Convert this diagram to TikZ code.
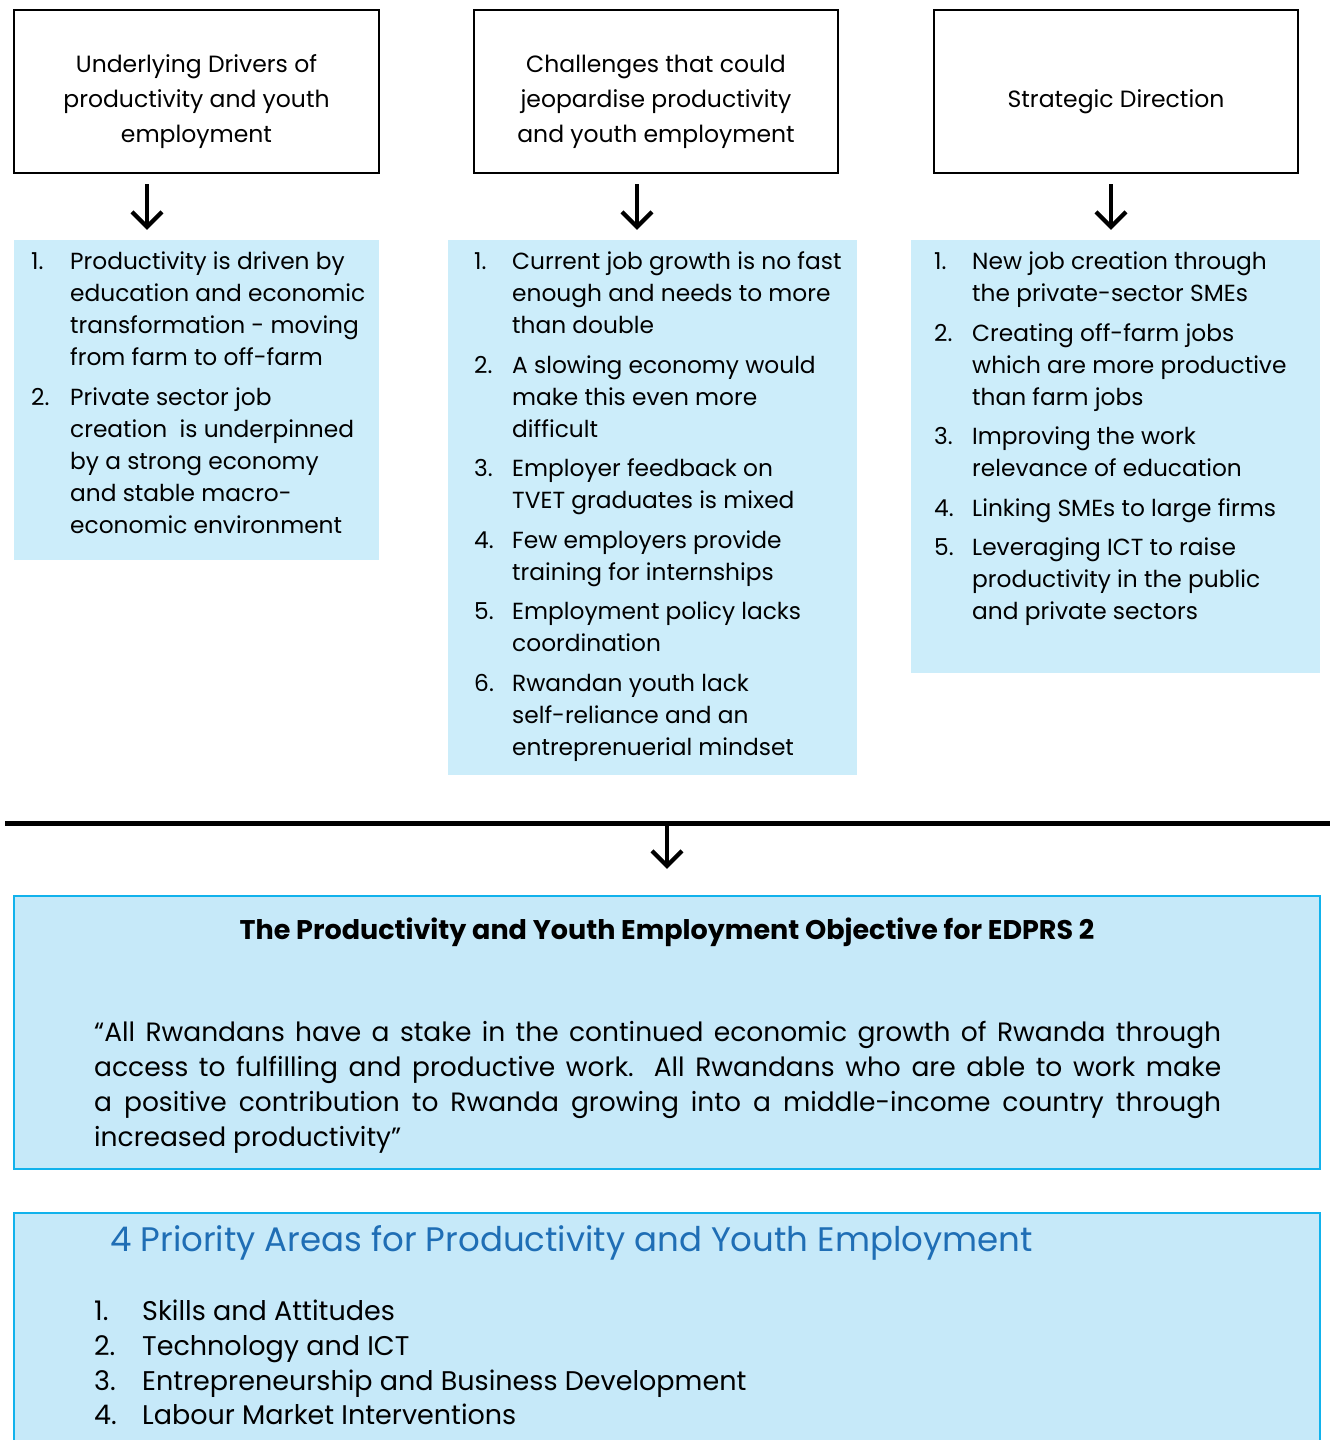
\documentclass[tikz,border=0pt]{standalone}
\usepackage{fontspec}
\setmainfont{Poppins}
\usetikzlibrary{arrows.meta,positioning}

\definecolor{listblue}{RGB}{204,237,250}
\definecolor{objblue}{RGB}{198,233,249}
\definecolor{objline}{RGB}{17,178,236}
\definecolor{titleblue}{RGB}{31,110,181}

\begin{document}
\begin{tikzpicture}[x=1pt,y=-1pt,
    headbox/.style={draw=black, line width=2.5pt, minimum height=163pt, inner sep=0pt},
    headtxt/.style={font=\fontsize{23.5}{35}\selectfont, align=center, anchor=base, inner sep=0pt},
    listbox/.style={fill=listblue, inner sep=0pt},
    itemtxt/.style={font=\fontsize{23.3}{32}\selectfont, align=left, anchor=base west, inner sep=0pt},
    dnarrow/.style={line width=4.2pt, -{Straight Barb[length=15pt,width=30pt]}, shorten <=10pt, shorten >=10pt},
    objbox/.style={draw=objline, fill=objblue, line width=2.5pt, minimum width=1306pt, inner sep=0pt},
]
    \clip (0,0) rectangle (1330,1440);

    % header boxes (multi-line texts sit on their last baseline)
    \node[headbox, minimum width=365pt] (hdrv) at (196.5,91.5) {};
    \node[headbox, minimum width=364pt] (hchl) at (656,91.5) {};
    \node[headbox, minimum width=364pt] (hstr) at (1116,91.5) {};
    \node[headtxt] (hdrvt) at (196.5,142) {Underlying Drivers of\\productivity and youth\\employment};
    \node[headtxt] (hchlt) at (656,142) {Challenges that could\\jeopardise productivity\\and youth employment};
    \node[headtxt] (hstrt) at (1116,107) {Strategic Direction};

    % list boxes
    \node[listbox, minimum width=365pt, minimum height=320pt] (ldrv) at (196.5,400) {};
    \node[listbox, minimum width=409pt, minimum height=535pt] (lchl) at (652.5,507.5) {};
    \node[listbox, minimum width=409pt, minimum height=433pt] (lstr) at (1115.5,456.5) {};

    \draw[dnarrow] ([xshift=-49.5pt]hdrv.south) -- ([xshift=-49.5pt]ldrv.north);
    \draw[dnarrow] ([xshift=-19pt]hchl.south) -- ([xshift=-15.5pt]lchl.north);
    \draw[dnarrow] ([xshift=-5pt]hstr.south) -- ([xshift=-4.5pt]lstr.north);

\foreach \n/\yy/\zz/\txt in {1/269/365/{Productivity is driven by\\education and economic\\transformation - moving\\from farm to off-farm},
                             2/405/533/{Private sector job\\creation \ is underpinned\\by a strong economy\\and stable macro-\\economic environment}}
{
    \node[itemtxt] (drvn\n) at (31,\yy) {\n.};
    \node[itemtxt] (drv\n) at (70,\zz) {\txt};
}

\foreach \n/\yy/\zz/\txt in {1/269/333/{Current job growth is no fast\\enough and needs to more\\than double},
                             2/373/437/{A slowing economy would\\make this even more\\difficult},
                             3/476/508/{Employer feedback on\\TVET graduates is mixed},
                             4/548/580/{Few employers provide\\training for internships},
                             5/619/651/{Employment policy lacks\\coordination},
                             6/691/755/{Rwandan youth lack\\self-reliance and an\\entreprenuerial mindset}}
{
    \node[itemtxt] (chln\n) at (474,\yy) {\n.};
    \node[itemtxt] (chl\n) at (512,\zz) {\txt};
}

\foreach \n/\yy/\zz/\txt in {1/269/301/{New job creation through\\the private-sector SMEs},
                             2/341/405/{Creating off-farm jobs\\which are more productive\\than farm jobs},
                             3/444/476/{Improving the work\\relevance of education},
                             4/516/516/{Linking SMEs to large firms},
                             5/555/619/{Leveraging ICT to raise\\productivity in the public\\and private sectors}}
{
    \node[itemtxt] (strn\n) at (934,\yy) {\n.};
    \node[itemtxt] (str\n) at (972,\zz) {\txt};
}

    % divider and objective
    \draw[line width=5pt] (5,823) -- (1330,823);
    \coordinate (hub) at (667,823);
    \node[objbox, minimum height=273pt] (obj) at (667,1032.5) {};
    \draw[dnarrow, shorten <=0pt, shorten >=26pt] (hub) -- (obj.north);

    \node[font=\bfseries\fontsize{27}{30}\selectfont, anchor=base, inner sep=0pt] (objt) at (667,939) {The Productivity and Youth Employment Objective for EDPRS 2};
    \node[font=\fontsize{26.5}{34.7}\selectfont, align=left, anchor=base west, inner sep=0pt] (quote) at (94,1146)
        {\makebox[1127pt][s]{“All Rwandans have a stake in the continued economic growth of Rwanda through}\\
         \makebox[1127pt][s]{access to fulfilling and productive work. All Rwandans who are able to work make}\\
         \makebox[1127pt][s]{a positive contribution to Rwanda growing into a middle-income country through}\\
         increased productivity”};

    % priority areas
    \node[objbox, minimum height=240pt] (pri) at (667,1333) {};
    \node[font=\fontsize{34}{40}\selectfont, text=titleblue, anchor=base west, inner sep=0pt] (prit) at (110,1251) {4 Priority Areas for Productivity and Youth Employment};

\foreach \n/\yy/\txt in {1/1320/Skills and Attitudes, 2/1355/Technology and ICT,
                         3/1390/Entrepreneurship and Business Development, 4/1424/Labour Market Interventions}
{
    \node[font=\fontsize{27}{35}\selectfont, anchor=base west, inner sep=0pt] (prin\n) at (94,\yy) {\n.};
    \node[font=\fontsize{27}{35}\selectfont, anchor=base west, inner sep=0pt] (pri\n) at (142,\yy) {\txt};
}

\end{tikzpicture}
\end{document}
